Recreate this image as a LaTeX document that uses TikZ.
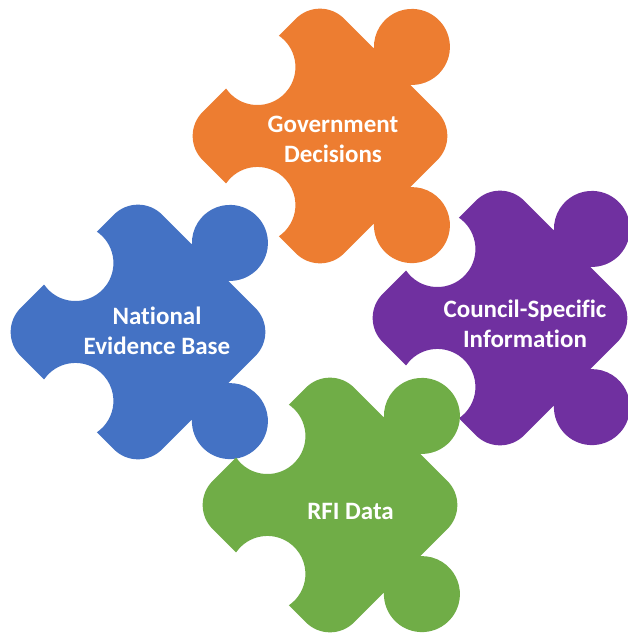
\documentclass[tikz,border=0pt]{standalone}
\usepackage{fontspec}
\setsansfont{Carlito}[Ligatures={NoCommon,NoRequired,NoContextual}]
\definecolor{pOrange}{HTML}{ED7D31}
\definecolor{pBlue}{HTML}{4472C4}
\definecolor{pPurple}{HTML}{7030A0}
\definecolor{pGreen}{HTML}{70AD47}
\newcommand\puzzlepath{%
  (100,-66) -- (100,-27.7)
  arc[start angle=222.55, end angle=497.45, radius=38pt]
  -- (100,66) arc[start angle=0, end angle=90, radius=34pt]
  -- (41.85,100) arc[start angle=10.62, end angle=-190.62, radius=38pt]
  -- (-66,100) arc[start angle=90, end angle=180, radius=34pt]
  -- (-100,32.85) arc[start angle=100.62, end angle=-100.62, radius=38pt]
  -- (-100,-66) arc[start angle=180, end angle=270, radius=34pt]
  -- (-23.7,-100) arc[start angle=132.55, end angle=407.45, radius=38pt]
  -- (66,-100) arc[start angle=270, end angle=360, radius=34pt]
  -- cycle}
\tikzset{
  piecelabel/.style={text=white, font=\sffamily\bfseries\fontsize{25}{30}\selectfont, align=center, inner sep=0pt}
}
\begin{document}
\begin{tikzpicture}[x=1pt, y=1pt]
\useasboundingbox (0,0) rectangle (628,633);
\fill[white] (0,0) rectangle (628,633);
\fill[pOrange, shift={(320,497)}, rotate=45] \puzzlepath;
\fill[pBlue, shift={(138,301)}, rotate=45] \puzzlepath;
\fill[pPurple, shift={(500,315)}, rotate=45] \puzzlepath;
\fill[pGreen, shift={(330,128)}, rotate=45] \puzzlepath;
\node[piecelabel] (gov) at (333,494) {Government\\Decisions};
\node[piecelabel] (nat) at (157,302) {National\\Evidence Base};
\node[piecelabel] (cou) at (525,309) {Council-Specific\\Information};
\node[piecelabel] (rfi) at (350.5,122) {RFI Data};
\end{tikzpicture}
\end{document}
